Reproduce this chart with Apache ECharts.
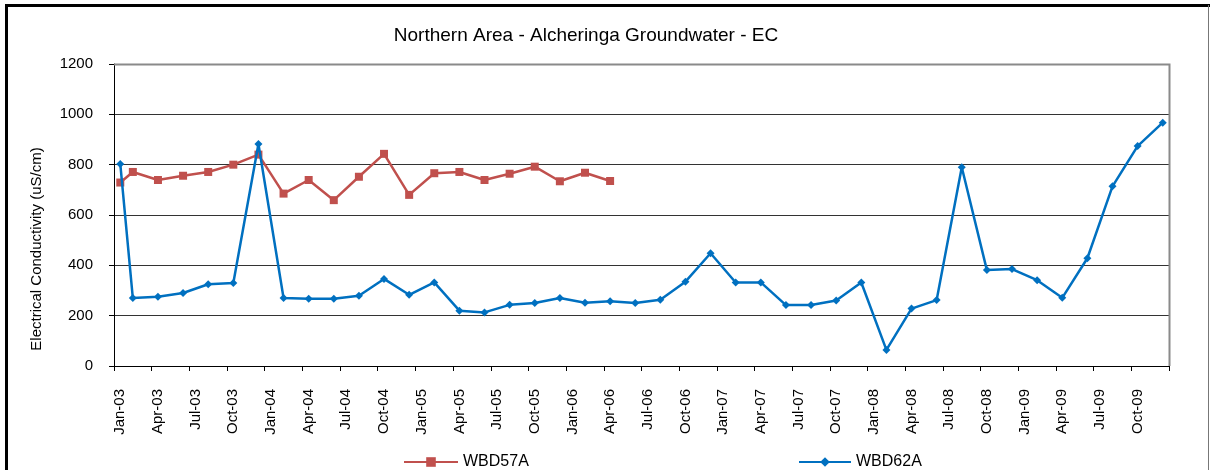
<!DOCTYPE html>
<html>
<head>
<meta charset="utf-8">
<script src="https://cdn.jsdelivr.net/npm/echarts@6/dist/echarts.min.js"></script>
<style>
  html, body { margin: 0; padding: 0; background: #fff; }
  #chart { width: 1210px; height: 470px; }
</style>
</head>
<body>
<div id="chart"></div>
<script>
// Monthly time base, Jan-03 .. Dec-09
const MONTH_NAMES = ['Jan', 'Feb', 'Mar', 'Apr', 'May', 'Jun', 'Jul', 'Aug', 'Sep', 'Oct', 'Nov', 'Dec'];
const YEARS = ['03', '04', '05', '06', '07', '08', '09'];
const categories = YEARS.flatMap(y => MONTH_NAMES.map(m => m + '-' + y));

// WBD57A sampling dates and EC readings (uS/cm)
const wbd57aDates = ['Jan-03', 'Feb-03', 'Apr-03', 'Jun-03', 'Aug-03', 'Oct-03', 'Dec-03',
  'Feb-04', 'Apr-04', 'Jun-04', 'Aug-04', 'Oct-04', 'Dec-04',
  'Feb-05', 'Apr-05', 'Jun-05', 'Aug-05', 'Oct-05', 'Dec-05',
  'Feb-06', 'Apr-06'];
const wbd57aEC = [729, 771, 739, 756, 771, 800, 840,
  685, 739, 659, 752, 843, 680,
  766, 771, 739, 764, 792, 734,
  768, 735];

// WBD62A sampling dates and EC readings (uS/cm)
const wbd62aDates = ['Jan-03', 'Feb-03', 'Apr-03', 'Jun-03', 'Aug-03', 'Oct-03', 'Dec-03',
  'Feb-04', 'Apr-04', 'Jun-04', 'Aug-04', 'Oct-04', 'Dec-04',
  'Feb-05', 'Apr-05', 'Jun-05', 'Aug-05', 'Oct-05', 'Dec-05',
  'Feb-06', 'Apr-06', 'Jun-06', 'Aug-06', 'Oct-06', 'Dec-06',
  'Feb-07', 'Apr-07', 'Jun-07', 'Aug-07', 'Oct-07', 'Dec-07',
  'Feb-08', 'Apr-08', 'Jun-08', 'Aug-08', 'Oct-08', 'Dec-08',
  'Feb-09', 'Apr-09', 'Jun-09', 'Aug-09', 'Oct-09', 'Dec-09'];
const wbd62aEC = [803, 270, 275, 290, 325, 330, 882,
  270, 267, 267, 279, 346, 283,
  332, 220, 213, 243, 250, 270,
  251, 257, 250, 263, 335, 448,
  332, 332, 242, 242, 260, 332,
  64, 228, 262, 790, 381, 385,
  341, 271, 428, 714, 874, 967];

// Value axis ticks
const Y_MIN = 0, Y_MAX = 1200, Y_STEP = 200;

const FONT = 'Liberation Sans, Arial, sans-serif';
const RED = '#C0504D';
const BLUE = '#0070C0';

// Plot area box
const PLOT = { left: 114, top: 64, right: 1169, bottom: 366 };

const chart = echarts.init(document.getElementById('chart'), null, { renderer: 'canvas' });

chart.setOption({
  animation: false,
  backgroundColor: '#fff',
  title: {
    text: 'Northern Area - Alcheringa Groundwater - EC',
    left: 581, top: 21, textAlign: 'center',
    textStyle: { fontFamily: FONT, fontSize: 19, fontWeight: 'normal', color: '#000' }
  },
  legend: [
    {
      data: ['WBD57A'], left: 398, top: 449,
      itemWidth: 54, itemHeight: 12, itemGap: 4,
      textStyle: { fontFamily: FONT, fontSize: 16, color: '#000' }
    },
    {
      data: ['WBD62A'], left: 793, top: 449,
      itemWidth: 52, itemHeight: 12, itemGap: 4,
      textStyle: { fontFamily: FONT, fontSize: 16, color: '#000' }
    }
  ],
  grid: {
    left: PLOT.left, top: PLOT.top,
    width: PLOT.right - PLOT.left, height: PLOT.bottom - PLOT.top,
    containLabel: false
  },
  xAxis: {
    type: 'category',
    data: categories,
    boundaryGap: true,
    axisLine: { show: true, lineStyle: { color: '#000', width: 1 } },
    axisTick: { show: true, interval: 2, length: 5, lineStyle: { color: '#000' } },
    axisLabel: {
      interval: 2, rotate: 90, margin: 23,
      fontFamily: FONT, fontSize: 15, color: '#000'
    },
    splitLine: { show: false }
  },
  yAxis: {
    type: 'value',
    min: Y_MIN, max: Y_MAX, interval: Y_STEP,
    axisLine: { show: true, lineStyle: { color: '#000', width: 1 } },
    axisTick: { show: true, length: 5, lineStyle: { color: '#000' } },
    axisLabel: {
      margin: 21, fontFamily: FONT, fontSize: 15, color: '#000',
      formatter: v => String(v)
    },
    splitLine: { show: true, lineStyle: { color: '#333', width: 1.2 } }
  },
  series: [
    {
      name: 'WBD57A',
      type: 'line',
      data: wbd57aDates.map((d, i) => [d, wbd57aEC[i]]),
      symbol: 'rect', symbolSize: 8,
      itemStyle: { color: RED },
      lineStyle: { color: RED, width: 2.5 },
      z: 3
    },
    {
      name: 'WBD62A',
      type: 'line',
      data: wbd62aDates.map((d, i) => [d, wbd62aEC[i]]),
      symbol: 'diamond', symbolSize: 8,
      itemStyle: { color: BLUE },
      lineStyle: { color: BLUE, width: 2.5 },
      z: 4
    }
  ],
  graphic: [
    // outer chart frame
    { type: 'line', shape: { x1: 6.5, y1: 4, x2: 6.5, y2: 470 }, style: { stroke: '#000', lineWidth: 3 } },
    { type: 'line', shape: { x1: 5, y1: 5.5, x2: 1210, y2: 5.5 }, style: { stroke: '#000', lineWidth: 3 } },
    { type: 'line', shape: { x1: 1208.5, y1: 5, x2: 1208.5, y2: 470 }, style: { stroke: '#777', lineWidth: 1 } },
    // plot area border, top and right edges
    { type: 'polyline', z: 10,
      shape: { points: [[PLOT.left, PLOT.top + 0.5], [PLOT.right + 0.5, PLOT.top + 0.5], [PLOT.right + 0.5, PLOT.bottom]] },
      style: { stroke: '#8a8a8a', lineWidth: 2, fill: null } },
    // value axis title
    { type: 'text', x: 37, y: 249, rotation: Math.PI / 2,
      style: { text: 'Electrical Conductivity (uS/cm)', fontFamily: FONT, fontSize: 15,
               fill: '#000', textAlign: 'center', textVerticalAlign: 'middle' } }
  ]
});
</script>
</body>
</html>
